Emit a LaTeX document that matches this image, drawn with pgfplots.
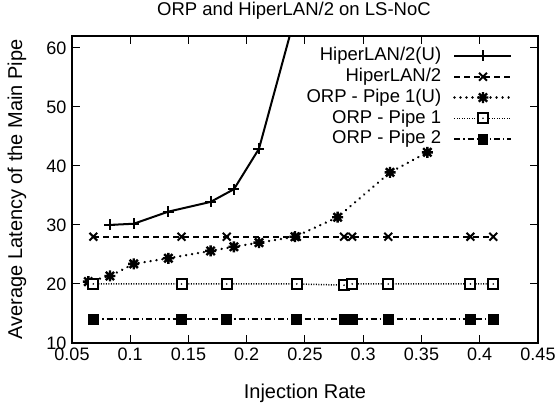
\documentclass[border=0pt]{standalone}
\usepackage{fontspec}
\setmainfont{Liberation Sans}
\usepackage{pgfplots}
\pgfplotsset{compat=1.18}
\pgfdeclareplotmark{sqdot}{%
  \pgfsetfillcolor{white}%
  \pgfpathrectangle{\pgfpoint{-\pgfplotmarksize}{-\pgfplotmarksize}}{\pgfpoint{2\pgfplotmarksize}{2\pgfplotmarksize}}%
  \pgfusepathqfillstroke
  \pgfsetfillcolor{black}%
  \pgfpathcircle{\pgfpointorigin}{0.9pt}%
  \pgfusepathqfill}
\pgfdeclareplotmark{plusx}{%
  \pgfpathmoveto{\pgfpoint{-\pgfplotmarksize}{0pt}}\pgfpathlineto{\pgfpoint{\pgfplotmarksize}{0pt}}%
  \pgfpathmoveto{\pgfpoint{0pt}{-\pgfplotmarksize}}\pgfpathlineto{\pgfpoint{0pt}{\pgfplotmarksize}}%
  \pgfpathmoveto{\pgfpoint{-0.75\pgfplotmarksize}{-0.75\pgfplotmarksize}}\pgfpathlineto{\pgfpoint{0.75\pgfplotmarksize}{0.75\pgfplotmarksize}}%
  \pgfpathmoveto{\pgfpoint{-0.75\pgfplotmarksize}{0.75\pgfplotmarksize}}\pgfpathlineto{\pgfpoint{0.75\pgfplotmarksize}{-0.75\pgfplotmarksize}}%
  \pgfusepathqstroke}
\begin{document}
\begin{tikzpicture}
\path[use as bounding box] (-72pt,-61pt) rectangle (486pt,343pt);
\begin{axis}[
  scale only axis,
  width=466pt, height=307pt,
  xmin=0.05, xmax=0.45, ymin=10, ymax=62,
  xtick={0.05,0.1,0.15,0.2,0.25,0.3,0.35,0.4,0.45},
  xticklabels={0.05,0.1,0.15,0.2,0.25,0.3,0.35,0.4,0.45},
  ytick={10,20,30,40,50,60},
  tick align=inside,
  major tick length=8pt,
  every tick/.style={black, line width=1pt},
  axis line style={line width=1.6pt},
  /pgf/number format/assume math mode=true,
  tick label style={font=\fontsize{18}{20}\selectfont},
  xticklabel style={yshift=-1pt},
  yticklabel style={xshift=-2pt},
  title={ORP and HiperLAN/2 on LS-NoC},
  title style={font=\fontsize{18.5}{21}\selectfont, at={(axis description cs:0.4764,1.0619)}, anchor=center},
  xlabel={Injection Rate},
  xlabel style={font=\fontsize{20}{22}\selectfont, at={(axis description cs:0.5,-0.163)}, anchor=center},
  ylabel={Average Latency of the Main Pipe},
  ylabel style={font=\fontsize{20}{22}\selectfont, at={(axis description cs:-0.118,0.5)}, anchor=center},
  legend plot pos=right,
  legend cell align=right,
  legend style={draw=none, fill=none, font=\fontsize{18.5}{21}\selectfont,
    at={(441pt,296pt)}, anchor=north east, inner sep=0pt,
    nodes={inner sep=0pt, text height=13.5pt, text depth=4pt},
    row sep=3.3pt, column sep=12pt},
  legend image code/.code={\draw[mark repeat=2,mark phase=2] plot coordinates {(0pt,0pt) (28.5pt,0pt) (57pt,0pt)};},
]
\addplot[black, line width=2pt, mark=+, mark size=5.5pt, mark options={solid, line width=2pt}]
  coordinates {(0.0826,30.0) (0.103,30.2) (0.1327,32.25) (0.169,33.9) (0.189,36.05) (0.2105,42.9) (0.2414,65.3)};
\addlegendentry{HiperLAN/2(U)}
\addplot[black, line width=1.8pt, dash pattern=on 6pt off 4pt, mark=x, mark size=5.5pt, mark options={solid, line width=2pt}]
  coordinates {(0.0683,28.0) (0.144,28.0) (0.1828,28.0) (0.243,28.0) (0.2835,28.0) (0.2905,28.0) (0.3215,28.0) (0.392,28.0) (0.4116,28.0)};
\addlegendentry{HiperLAN/2}
\addplot[black, line width=2.6pt, line cap=round, dash pattern=on 0.01pt off 6pt, mark=plusx, mark size=5.5pt, mark options={solid, line width=2.4pt, line cap=butt}]
  coordinates {(0.064,20.4) (0.0826,21.35) (0.103,23.4) (0.1327,24.35) (0.169,25.6) (0.189,26.3) (0.2105,27.0) (0.2414,28.0) (0.278,31.3) (0.323,38.9) (0.355,42.3)};
\addlegendentry{ORP - Pipe 1(U)}
\addplot[black, line width=1.5pt, dash pattern=on 1pt off 1.5pt, mark=sqdot, mark size=5pt, mark options={solid, line width=2pt}]
  coordinates {(0.0683,20.0) (0.144,20.0) (0.1828,20.0) (0.243,20.0) (0.2835,19.8) (0.2905,20.0) (0.3215,20.0) (0.392,20.0) (0.4116,20.0)};
\addlegendentry{ORP - Pipe 1}
\addplot[black, line width=1.8pt, dash pattern=on 6pt off 3pt on 1.2pt off 3pt, mark=square*, mark size=4.5pt, mark options={solid}]
  coordinates {(0.0683,14.0) (0.144,14.0) (0.1828,14.0) (0.243,14.0) (0.2835,14.0) (0.2905,14.0) (0.3215,14.0) (0.392,14.0) (0.4116,14.0)};
\addlegendentry{ORP - Pipe 2}
\end{axis}
\end{tikzpicture}
\end{document}
